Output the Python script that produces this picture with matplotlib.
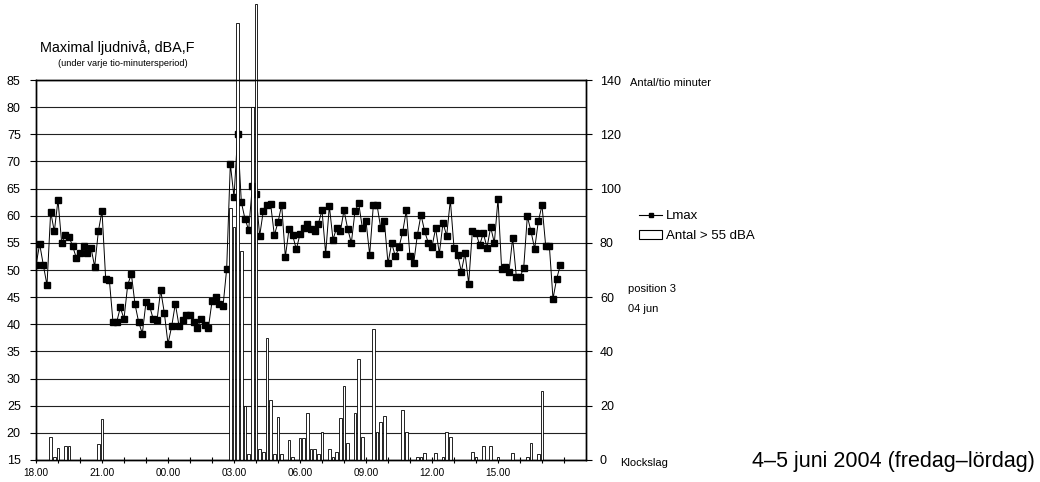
import numpy as np
import matplotlib.pyplot as plt
from matplotlib.lines import Line2D
from matplotlib.patches import Patch

plt.rcParams['font.family'] = ['Liberation Sans', 'DejaVu Sans']

# Lmax per tio-minutersperiod, från 18.00 (fredag) till 17.50 (lördag)
lmax = [
    50.9, 54.8, 50.9, 47.2, 60.7, 57.1, 62.9, 55.0, 56.4, 56.1, 54.4, 52.2,
    53.1, 54.5, 53.1, 54.1, 50.6, 57.1, 60.9, 48.4, 48.2, 40.4, 40.4, 43.1,
    41.0, 47.2, 49.3, 43.7, 40.4, 38.3, 44.1, 43.3, 40.9, 40.7, 46.3, 42.1,
    36.4, 39.6, 43.8, 39.7, 40.8, 41.7, 41.8, 40.5, 39.4, 41.0, 39.9, 39.3,
    44.2, 45.1, 43.8, 43.3, 50.2, 69.6, 63.4, 75.0, 62.5, 59.4, 57.4, 65.4,
    64.0, 56.3, 60.9, 62.0, 62.1, 56.4, 58.8, 62.0, 52.4, 57.5, 56.4, 53.8,
    56.6, 57.7, 58.4, 57.5, 57.1, 58.5, 61.0, 53.0, 61.8, 55.6, 57.8, 57.1,
    61.0, 57.6, 55.0, 60.8, 62.3, 57.8, 59.0, 52.8, 61.9, 62.0, 57.8, 59.0,
    51.2, 55.0, 52.5, 54.2, 57.0, 61.0, 52.5, 51.2, 56.4, 60.2, 57.1, 55.0,
    54.3, 57.7, 53.0, 58.7, 56.3, 62.9, 54.1, 52.8, 49.7, 53.1, 47.5, 57.1,
    56.8, 54.6, 56.8, 54.1, 57.9, 55.0, 63.1, 50.1, 50.6, 49.7, 55.9, 48.8,
    48.8, 50.3, 59.9, 57.1, 53.9, 59.0, 61.9, 54.5, 54.5, 44.7, 48.4, 50.9,
]

# antal händelser > 55 dBA per tio minuter
antal = [
    0, 0, 0, 0, 8.3, 1.2, 4.3, 0, 5.2, 5.2, 0, 0,
    0, 0, 0, 0, 0, 6.0, 15.2, 0, 0, 0, 0, 0,
    0, 0, 0, 0, 0, 0, 0, 0, 0, 0, 0, 0,
    0, 0, 0, 0, 0, 0, 0, 0, 0, 0, 0, 0,
    0, 0, 0, 0, 0, 93, 86, 161, 77, 20, 2.3, 130,
    168, 4.2, 3.0, 45, 22, 2.3, 16, 2.3, 0, 7.5, 1.0, 0,
    8.2, 8.2, 17.4, 4.2, 4.2, 2.3, 10.4, 0, 4.2, 1.1, 3.0, 15.3,
    27.2, 6.1, 0, 17.4, 37.1, 8.3, 0, 0, 48.4, 10.3, 14.0, 16.3,
    0, 0, 0, 0, 18.4, 10.4, 0, 0, 1.1, 1.1, 2.4, 0,
    0, 2.4, 0, 1.2, 10.3, 8.3, 0, 0, 0, 0, 0, 3.1,
    1.1, 0, 5.3, 0, 5.3, 0, 1.1, 0, 0, 0, 2.4, 0,
    0, 0, 1.1, 6.1, 0, 2.3, 25.5, 0, 0, 0, 0, 0,
]

klockslag = ["18.00", "21.00", "00.00", "03.00", "06.00", "09.00", "12.00", "15.00"]

tid = np.arange(len(lmax)) / 6  # timmar efter 18.00

fig = plt.figure(figsize=(10.4, 4.82), dpi=100)
ax = fig.add_axes([36 / 1040, 1 - 460 / 482, 550 / 1040, 380 / 482])
ax2 = ax.twinx()

# vänster axel: Lmax
ax.plot(tid, lmax, color="black", lw=0.7, marker="s", ms=3.8, mfc="black", mec="black")
ax.set_xlim(0, 25)
ax.set_ylim(15, 85)
ax.set_yticks(range(15, 86, 5))
ax.grid(axis="y", color="#222222", lw=0.8)
ax.set_axisbelow(True)
ax.tick_params(axis="y", direction="out", length=4, labelsize=9, pad=7)

ax.set_xticks(range(0, 25))
ax.set_xticklabels([klockslag[h // 3] if h % 3 == 0 and h < 24 else "" for h in range(0, 25)])
ax.tick_params(axis="x", direction="inout", length=5, width=0.8, labelsize=7.2, pad=3)

# höger axel: antal
ax2.bar(tid, antal, width=0.12, color="white", edgecolor="black", lw=0.6, clip_on=False)
ax2.set_ylim(0, 140)
ax2.set_yticks(range(0, 141, 20))
ax2.tick_params(axis="y", direction="out", length=4, labelsize=9, pad=6)

for a in (ax, ax2):
    for s in a.spines.values():
        s.set_color("black")
        s.set_linewidth(1.0)

fig.text(40 / 1040, 1 - 48 / 482, "Maximal ljudnivå, dBA,F", fontsize=10.4, va="center")
fig.text(58 / 1040, 1 - 64 / 482, "(under varje tio-minutersperiod)", fontsize=6.7, va="center")
fig.text(630 / 1040, 1 - 83 / 482, "Antal/tio minuter", fontsize=8, va="center")
fig.text(628 / 1040, 1 - 289 / 482, "position 3", fontsize=8, va="center")
fig.text(628 / 1040, 1 - 309 / 482, "04 jun", fontsize=8, va="center")
fig.text(620 / 1040, 1 - 463 / 482, "Klockslag", fontsize=8, va="center")
fig.text(752 / 1040, 1 - 461 / 482, "4–5 juni 2004 (fredag–lördag)", fontsize=15.5, va="center")

handles = [
    Line2D([], [], color="black", lw=0.8, marker="s", ms=3.5),
    Patch(facecolor="white", edgecolor="black", lw=0.8),
]
fig.legend(handles, ["Lmax", "Antal > 55 dBA"], loc="upper left",
           bbox_to_anchor=(639 / 1040, 1 - 210 / 482), frameon=False,
           fontsize=9.5, handlelength=1.75, handletextpad=0.3,
           labelspacing=0.6, borderpad=0, borderaxespad=0)

fig.savefig("out.png", dpi=100)
